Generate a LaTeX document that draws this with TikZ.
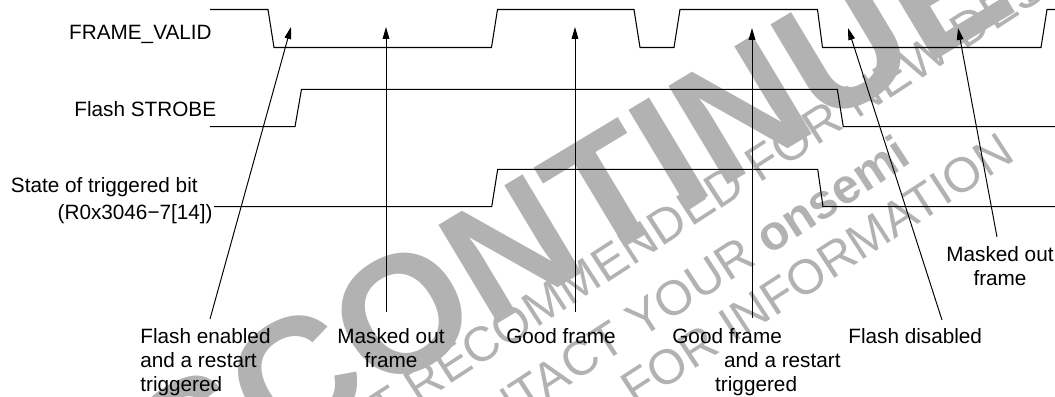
\documentclass[tikz,border=0pt]{standalone}
\usepackage{fontspec}
\setmainfont{Liberation Sans}
\usetikzlibrary{arrows.meta}

\begin{document}
\begin{tikzpicture}[
  x=0.02cm, y=-0.02cm,
  font=\fontsize{11.8pt}{13.6pt}\selectfont,
  sig/.style={line width=0.6pt, line join=miter},
  lbl/.style={inner sep=0pt},
  note/.style={inner sep=0pt, align=left, anchor=north west},
  arr/.style={-{Triangle[length=6.8pt, width=3.8pt]}, line width=0.55pt},
  wm/.style={black!30, inner sep=0pt, rotate=33},
]
\useasboundingbox (0,0) rectangle (1055,396);
% ================= WATERMARK =================
\begin{scope}
\clip (0,0) rectangle (1055,396);
\node[wm, rotate=-2, font=\fontsize{95pt}{95pt}\selectfont\bfseries] (wmbig) at (550,225) {DISCONTINUED};
\node[wm, font=\fontsize{27.8pt}{28pt}\selectfont] (wma) at (712,194.5) {NOT RECOMMENDED FOR NEW DESIGN};
\node[wm, font=\fontsize{27.8pt}{28pt}\selectfont] (wmb) at (664,303.5) {CONTACT YOUR \textbf{onsemi}};
\node[wm, font=\fontsize{27.8pt}{28pt}\selectfont] (wmc) at (817,269.5) {FOR INFORMATION};
\end{scope}
% ================= SIGNALS =================
\node[lbl, anchor=base east] (fv) at (212,39) {FRAME\_VALID};
\node[lbl, anchor=base east] (fs) at (216.5,116) {Flash STROBE};
\node[lbl, anchor=base east] (tb) at (198,192) {State of triggered bit};
\node[lbl, anchor=base east] (tbr) at (213,219) {(R0x3046−7[14])};
\draw[sig] (210,9.5) -- (268,9.5) -- (274,47.5) -- (491.5,47.5) -- (497.5,9.5)
  -- (634,9.5) -- (640,47.5) -- (674,47.5) -- (680,9.5) -- (817.5,9.5)
  -- (822.5,47.5) -- (1041,47.5) -- (1047,9.5) -- (1055,9.5);
\draw[sig] (210,126.7) -- (295,126.7) -- (301.5,89.3) -- (837.3,89.3)
  -- (843.3,126.7) -- (1055,126.7);
\draw[sig] (214,206.7) -- (491.7,206.7) -- (497.7,169.3) -- (817.7,169.3)
  -- (823,206.7) -- (1055,206.7);
% ================= EVENTS =================
\node[note] (en) at (140,328) {Flash enabled\\and a restart\\triggered};
\node[note, align=center, anchor=north] (mk1) at (391,328) {Masked out\\frame};
\node[note, anchor=north] (gd1) at (561,328) {Good frame};
\node[note] (gd2) at (672,328) {Good frame\\\hspace*{29.5pt}and a restart\\\hspace*{24.4pt}triggered};
\node[note] (dis) at (848,328) {Flash disabled};
\node[note, align=center, anchor=north] (mk2) at (1000,246) {Masked out\\frame};
\coordinate (enB) at (210,319);   \coordinate (enT) at (291,27);
\coordinate (mk1B) at (386,312);  \coordinate (mk1T) at (386,27);
\coordinate (gd1B) at (575,312);  \coordinate (gd1T) at (575,27);
\coordinate (gd2B) at (752,318);  \coordinate (gd2T) at (752,28);
\coordinate (disB) at (942,320);  \coordinate (disT) at (848,28);
\coordinate (mk2B) at (997,237);  \coordinate (mk2T) at (958,28);
\draw[arr] (enB) -- (enT);
\draw[arr] (mk1B) -- (mk1T);
\draw[arr] (gd1B) -- (gd1T);
\draw[arr] (gd2B) -- (gd2T);
\draw[arr] (disB) -- (disT);
\draw[arr] (mk2B) -- (mk2T);
\end{tikzpicture}
\end{document}
